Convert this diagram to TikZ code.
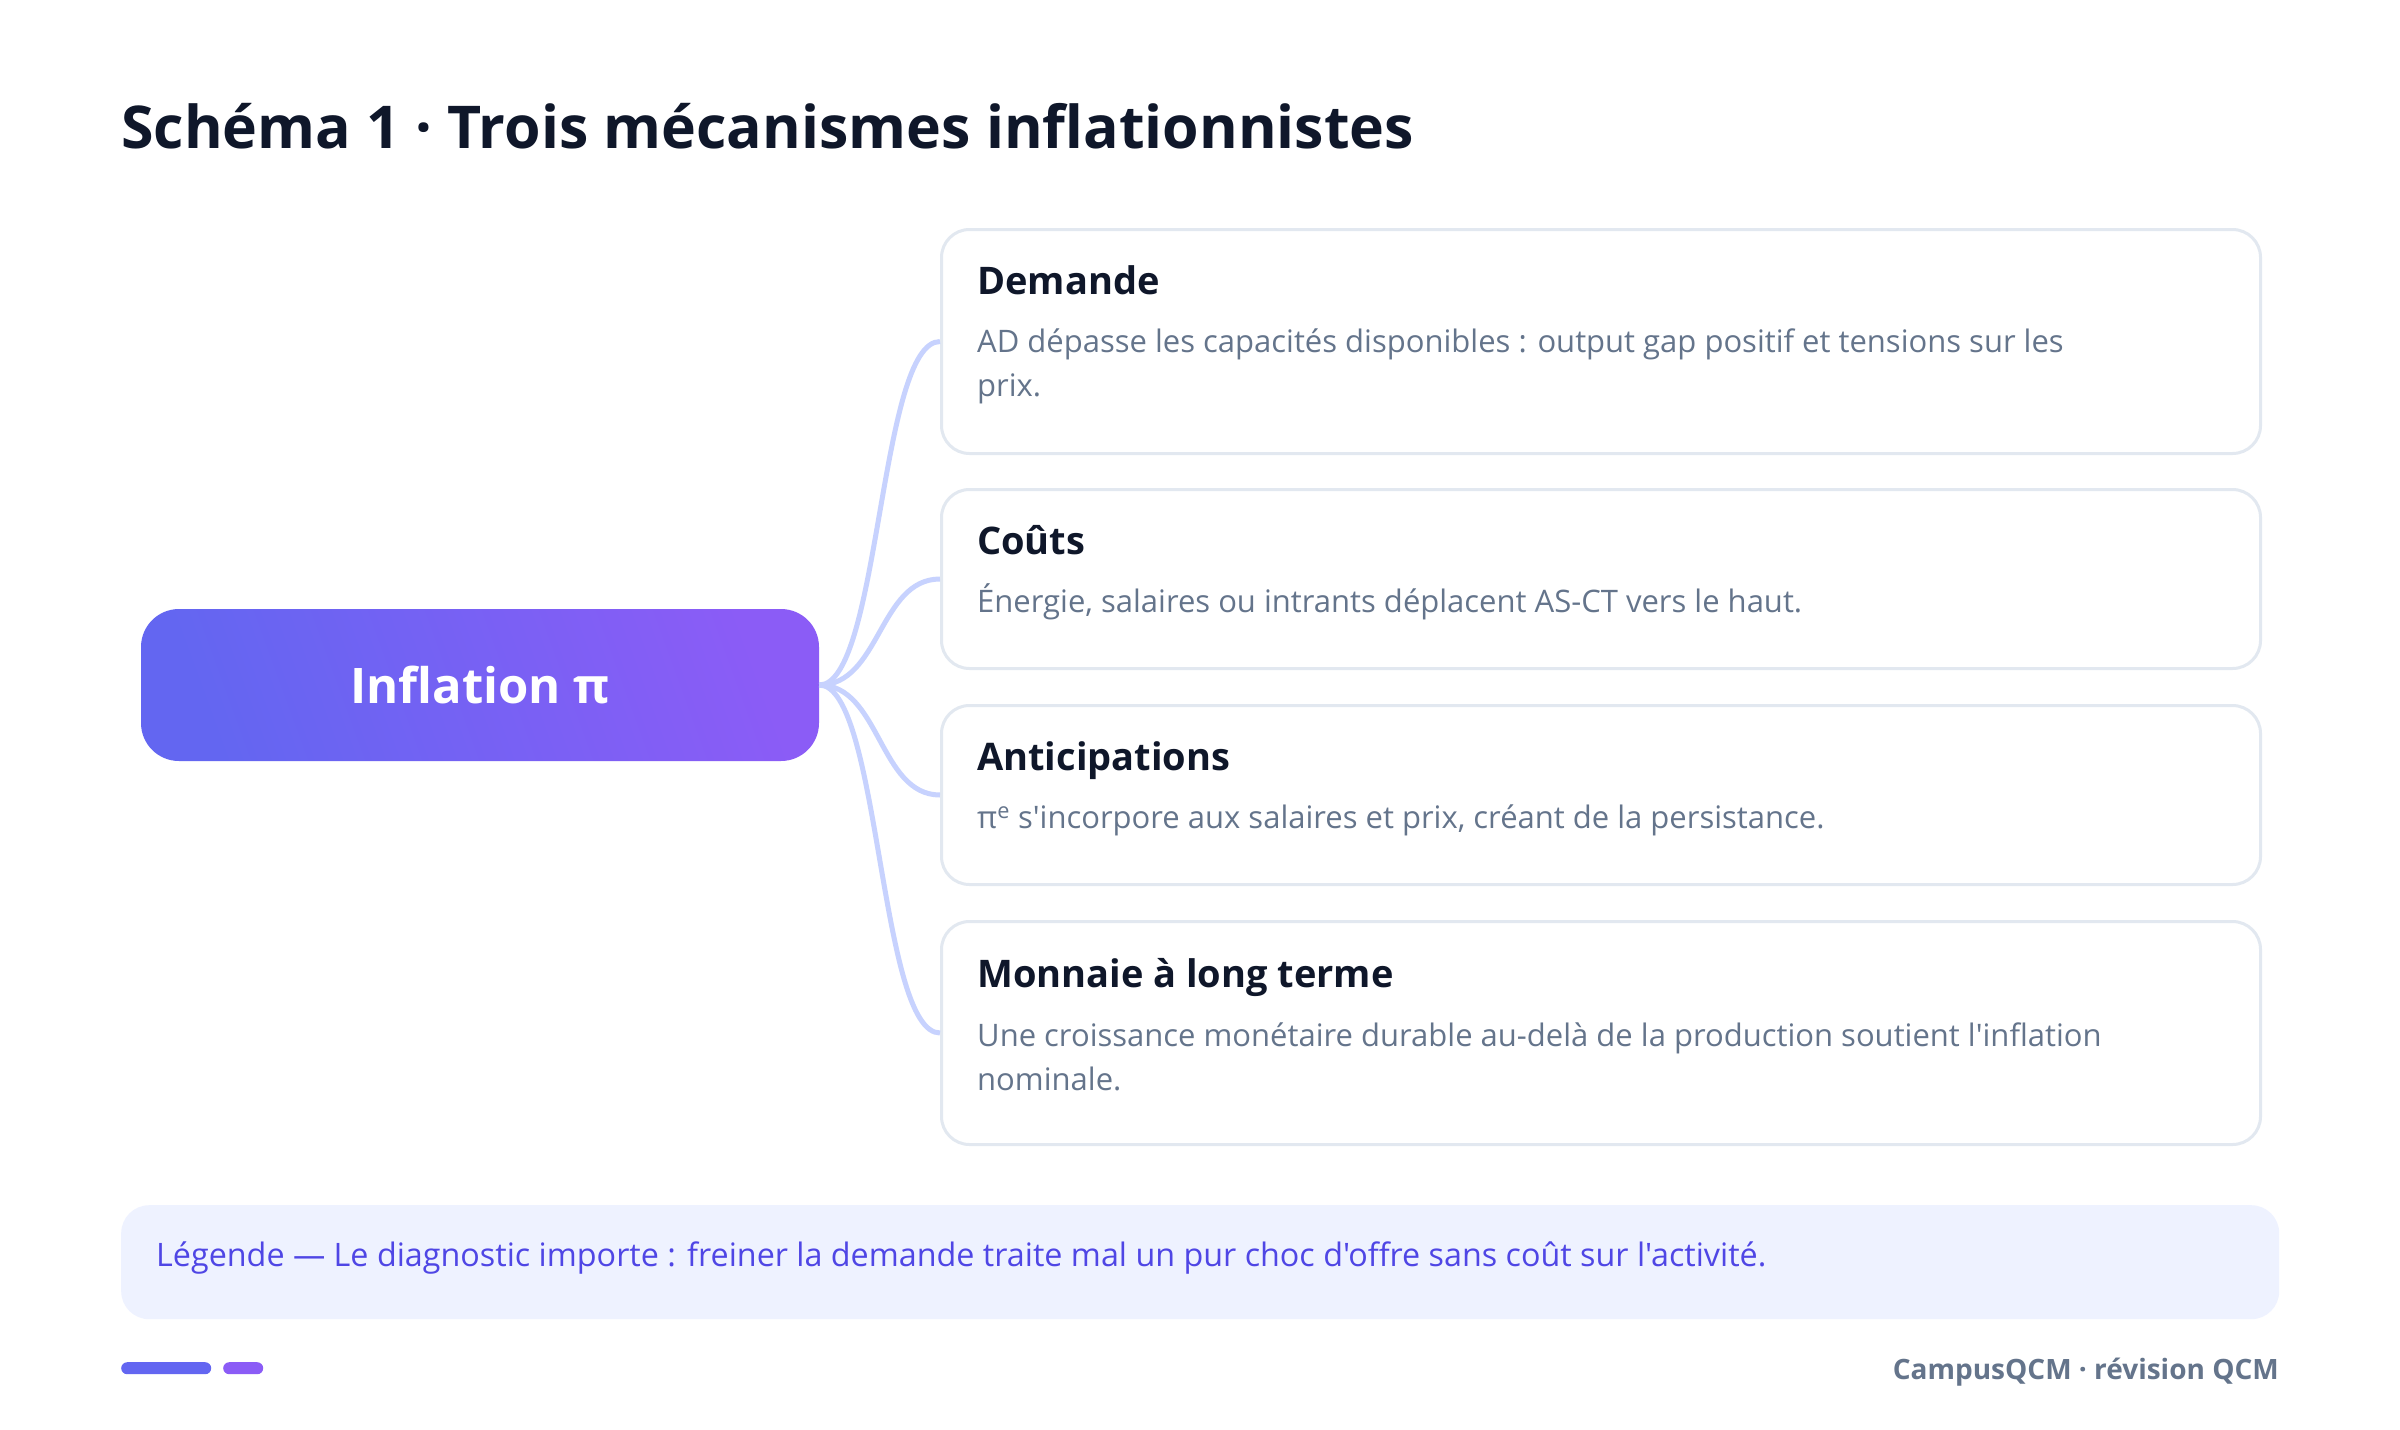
\documentclass[tikz,border=0pt]{standalone}
\usepackage{fontspec}
\setmainfont{Open Sans}[Ligatures=TeXOff]
\usetikzlibrary{calc}
\definecolor{ink}{HTML}{0F172A}
\definecolor{muted}{HTML}{64748B}
\definecolor{cardline}{HTML}{E2E8F0}
\definecolor{linkc}{HTML}{C7D2FE}
\definecolor{indigoA}{HTML}{6366F1}
\definecolor{violetB}{HTML}{8B5CF6}
\definecolor{legbg}{HTML}{EEF2FF}
\definecolor{legtx}{HTML}{4F46E5}
\begin{document}
\begin{tikzpicture}[x=1pt,y=-1pt,
  card/.style={draw=cardline, line width=3pt, fill=white, rounded corners=28pt,
    inner sep=0pt, anchor=north west, minimum width=1319pt},
  head/.style={anchor=base west, inner sep=0pt, text=ink, font=\fontsize{38}{44}\selectfont\bfseries},
  body/.style={anchor=base west, inner sep=0pt, text=muted, align=left, font=\fontsize{31}{44}\selectfont},
  link/.style={draw=linkc, line width=5pt},
  pill/.style={inner sep=0pt, rounded corners=6pt, minimum height=12pt, anchor=north west}
]
\useasboundingbox (0,0) rectangle (2400,1429);
\fill[white] (0,0) rectangle (2400,1429);

\node[anchor=base west, inner sep=0pt, text=ink, font=\fontsize{59}{64}\selectfont\bfseries] (title) at (121,148) {Schéma 1 · Trois mécanismes inflationnistes};

\node[card, minimum height=224pt] (c1) at (940,228) {};
\node[card, minimum height=179pt] (c2) at (940,488) {};
\node[card, minimum height=179pt] (c3) at (940,704) {};
\node[card, minimum height=223pt] (c4) at (940,920) {};

\node[inner sep=0pt, rounded corners=38pt, minimum width=678pt, minimum height=152pt,
  left color=indigoA, right color=violetB, shading angle=110,
  text=white, font=\fontsize{49}{54}\selectfont\bfseries] (core) at (480,685) {Inflation π};

\foreach \c in {c1,c2,c3,c4}{
  \draw[link] (core.east) .. controls ($(core.east)+(61,0)$) and ($(\c.west)+(-61,0)$) .. (\c.west);
}

\node[head] (h1) at (977,294) {Demande};
\node[body] (b1) at (977,396) {AD dépasse les capacités disponibles : output gap positif et tensions sur les\\prix.};
\node[head] (h2) at (977,554) {Coûts};
\node[body] (b2) at (977,612) {Énergie, salaires ou intrants déplacent AS-CT vers le haut.};
\node[head] (h3) at (977,770) {Anticipations};
\node[body] (b3) at (977,828) {π\textsuperscript{e} s'incorpore aux salaires et prix, créant de la persistance.};
\node[head] (h4) at (977,987) {Monnaie à long terme};
\node[body] (b4) at (977,1090) {Une croissance monétaire durable au-delà de la production soutient l'inflation\\nominale.};

\node[inner sep=0pt, fill=legbg, rounded corners=28pt, minimum width=2158pt, minimum height=114pt, anchor=north west] (leg) at (121,1205) {};
\node[anchor=base west, inner sep=0pt, text=legtx, font=\fontsize{32.3}{36}\selectfont] (legt) at (156,1266) {Légende — Le diagnostic importe : freiner la demande traite mal un pur choc d'offre sans coût sur l'activité.};

\node[pill, fill=indigoA, minimum width=90pt] (p1) at (121,1362) {};
\node[pill, fill=violetB, minimum width=40pt] (p2) at (223,1362) {};
\node[anchor=base east, inner sep=0pt, text=muted, font=\fontsize{28}{30}\selectfont\bfseries] (foot) at (2279,1379) {CampusQCM · révision QCM};
\end{tikzpicture}
\end{document}
